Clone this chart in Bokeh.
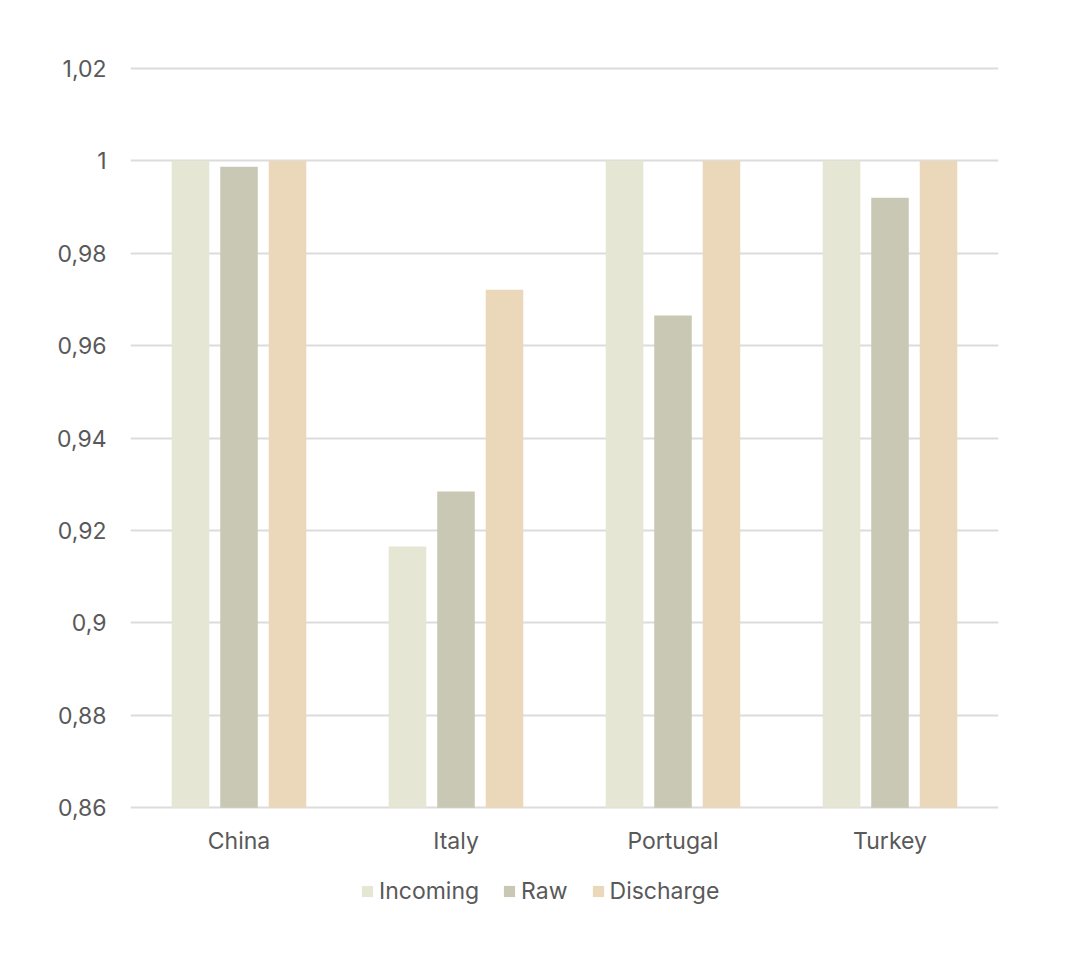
from bokeh.plotting import figure
from bokeh.layouts import column
from bokeh.models import ColumnDataSource, FixedTicker, Legend, LegendItem, Range1d
from bokeh.transform import dodge
from bokeh.embed import file_html
from bokeh.resources import INLINE

countries = ["China", "Italy", "Portugal", "Turkey"]
incoming = [1.0, 0.9165, 1.0, 1.0]
raw = [0.9987, 0.9284, 0.9665, 0.992]
discharge = [1.0, 0.9721, 1.0, 1.0]
series_names = ["Incoming", "Raw", "Discharge"]
series_colors = ["#E6E6D4", "#C9C8B4", "#EBD7B9"]
y_ticks = [0.86, 0.88, 0.90, 0.92, 0.94, 0.96, 0.98, 1.00, 1.02]
y_tick_labels = ["0,86", "0,88", "0,9", "0,92", "0,94", "0,96", "0,98", "1", "1,02"]

FONT = "Inter"
TXT = "#595959"

source = ColumnDataSource(dict(country=countries, incoming=incoming, raw=raw, discharge=discharge))

p = figure(x_range=countries, y_range=(0.8596, 1.0204),
           frame_width=868, frame_height=743,
           output_backend="svg", toolbar_location=None,
           min_border_left=130, min_border_right=72, min_border_top=66, min_border_bottom=60)
p.outline_line_color = None
p.background_fill_color = "white"
p.border_fill_color = "white"

offsets = [-0.2235, 0.0, 0.2235]
cols = ["incoming", "raw", "discharge"]
for col, off, color in zip(cols, offsets, series_colors):
    p.vbar(x=dodge("country", off, range=p.x_range), top=col, bottom=0.86, width=0.173,
           source=source, fill_color=color, line_color=None)

p.yaxis.ticker = FixedTicker(ticks=y_ticks)
p.yaxis.major_label_overrides = {t: l for t, l in zip(y_ticks, y_tick_labels)}
for ax in (p.xaxis, p.yaxis):
    ax.axis_line_color = None
    ax.major_tick_line_color = None
    ax.minor_tick_line_color = None
    ax.major_tick_in = 0
    ax.major_tick_out = 0
    ax.major_label_text_font = FONT
    ax.major_label_text_font_size = "23px"
    ax.major_label_text_color = TXT
p.yaxis.major_label_standoff = 24
p.xaxis.major_label_standoff = 17

p.xgrid.grid_line_color = None
p.ygrid.grid_line_color = "#DCDCDC"
p.ygrid.grid_line_width = 2
p.ygrid.ticker = FixedTicker(ticks=y_ticks)

# legend strip below the chart (its frame is aligned with the chart's frame by the column layout)
leg = figure(width=1070, height=84, x_range=Range1d(0, 1), y_range=Range1d(0, 1),
             output_backend="svg", toolbar_location=None, min_border=0)
leg.axis.visible = False
leg.grid.visible = False
leg.outline_line_color = None
leg.border_fill_color = "white"
leg.background_fill_color = "white"
# legend proxies, kept outside the visible range
leg_renderers = [leg.vbar(x=[5], top=[5], bottom=[4], width=0.1, fill_color=c, line_color=None)
                 for c in series_colors]

legend = Legend(items=[LegendItem(label=n, renderers=[r]) for n, r in zip(series_names, leg_renderers)],
                orientation="horizontal", location=(230, 48))
legend.label_text_font = FONT
legend.label_text_font_size = "23px"
legend.label_text_color = TXT
legend.glyph_width = 14
legend.glyph_height = 14
legend.label_height = 26
legend.label_standoff = 5
legend.spacing = 23
legend.padding = 0
legend.margin = 0
legend.border_line_color = None
legend.background_fill_alpha = 0
leg.add_layout(legend, "center")

layout = column(p, leg, spacing=0)
open("out.html", "w").write(file_html(layout, INLINE))
